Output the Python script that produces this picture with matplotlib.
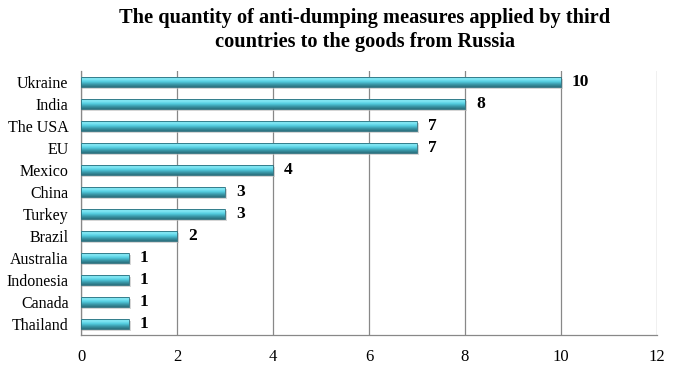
import numpy as np
import matplotlib.pyplot as plt
import matplotlib as mpl
from matplotlib.colors import LinearSegmentedColormap

mpl.rcParams.update({
    'font.family': 'Liberation Serif', 'font.size': 12,
})

countries = ['Ukraine', 'India', 'The USA', 'EU', 'Mexico', 'China', 'Turkey',
             'Brazil', 'Australia', 'Indonesia', 'Canada', 'Thailand']
measures = [10, 8, 7, 7, 4, 3, 3, 2, 1, 1, 1, 1]

# cylinder-like shading, top -> bottom
cyl = LinearSegmentedColormap.from_list(
    'cyl', ['#2b6f7d', '#3a9aab', '#55cfe2', '#86e9f6', '#5cc9db'])

fig = plt.figure(figsize=(6.8, 3.71), dpi=100)
ax = fig.add_axes([81 / 680, 1 - 335 / 371, 576 / 680, 264 / 371])

y = np.arange(len(countries))[::-1]
bars = ax.barh(y, measures, height=0.46, color='none', zorder=3)

grad = np.linspace(0, 1, 64).reshape(-1, 1)
for b in bars:
    x0, y0, w, h = b.get_x(), b.get_y(), b.get_width(), b.get_height()
    # soft shadow
    ax.barh(y0 + h / 2 - 0.1, w + 0.05, height=h, left=x0, color='#bbbbbb',
            alpha=0.6, zorder=2)
    im = ax.imshow(grad, cmap=cyl, aspect='auto', extent=(x0, x0 + w, y0, y0 + h),
                   origin='lower', zorder=3, interpolation='bilinear')
    im.set_clip_path(b)
    ax.barh(y0 + h / 2, w, height=h, left=x0, color='none',
            edgecolor='#2b6f7d', linewidth=0.6, zorder=4)
    ax.text(x0 + w + 0.23, y0 + h / 2, f'{w:g}', va='center', ha='left',
            fontweight='bold', fontsize=12.5, zorder=5)

ax.set_xlim(0, 12)
ax.set_ylim(-0.5, len(countries) - 0.5)
ax.set_xticks(range(0, 13, 2))
ax.set_yticks(y)
ax.set_yticklabels(countries)
ax.tick_params(axis='both', length=0, labelsize=11.5)
ax.tick_params(axis='x', pad=10, labelsize=12)
ax.tick_params(axis='y', pad=9)
ax.grid(axis='x', color='#888888', linewidth=0.9, zorder=0)
ax.set_axisbelow(True)
for s in ['top', 'right']:
    ax.spines[s].set_visible(False)
for s in ['left', 'bottom']:
    ax.spines[s].set_color('#888888')
    ax.spines[s].set_linewidth(0.9)

fig.text(365 / 680, 1 - 30 / 371,
         'The quantity of anti-dumping measures applied by third\ncountries to the goods from Russia',
         ha='center', va='center', fontsize=14.7, fontweight='bold', linespacing=1.25)

fig.savefig('out.png', dpi=100)
